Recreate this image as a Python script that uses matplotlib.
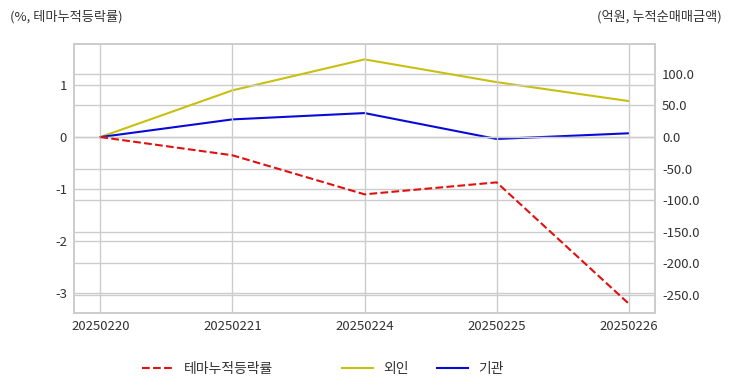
import numpy as np
import matplotlib.pyplot as plt
from matplotlib.lines import Line2D

plt.rcParams['font.family'] = ['Noto Sans CJK KR', 'DejaVu Sans']

# 데이터
dates = ['20250220', '20250221', '20250224', '20250225', '20250226']
theme_rate = [0.0, -0.35, -1.10, -0.87, -3.20]     # 테마누적등락률 (%)
foreign = [0.0, 74.0, 123.0, 87.0, 57.0]           # 외인 (억원)
institution = [0.0, 28.0, 38.0, -3.0, 6.0]         # 기관 (억원)

left_ticks = [1, 0, -1, -2, -3]
right_ticks = [100, 50, 0, -50, -100, -150, -200, -250]

grid_c = '#cccccc'
txt_c = '#333333'

fig = plt.figure(figsize=(7.32, 3.92), dpi=100)
ax = fig.add_axes([0.101, 0.2015, 0.794, 0.6865])
ax2 = ax.twinx()

x = np.arange(len(dates))
ax.plot(x, theme_rate, color='#e01010', linestyle='--', linewidth=1.5, zorder=5)
ax2.plot(x, foreign, color='#c8c010', linewidth=1.5)
ax2.plot(x, institution, color='#0a0ad8', linewidth=1.5)

ax.set_xlim(-0.2, 4.2)
ax.set_ylim(-3.38, 1.79)
ax2.set_ylim(-278.5, 147.5)

ax.set_xticks(x)
ax.set_xticklabels(dates)
ax.set_yticks(left_ticks)
ax.set_yticklabels([str(t) for t in left_ticks])
ax2.set_yticks(right_ticks)
ax2.set_yticklabels(['%.1f' % t for t in right_ticks])

for a in (ax, ax2):
    a.tick_params(length=0, labelsize=9.5, colors=txt_c, pad=5)
    for s in a.spines.values():
        s.set_color(grid_c)
        s.set_linewidth(1.2)
ax.grid(True, color=grid_c, linewidth=1)
ax2.grid(True, axis='y', color=grid_c, linewidth=1)
ax.set_axisbelow(True)
ax2.set_axisbelow(True)
ax.set_zorder(ax2.get_zorder() + 1)
ax.patch.set_visible(False)

fig.text(0.014, 0.958, '(%, 테마누적등락률)', fontsize=9.5, color=txt_c, va='center')
fig.text(0.986, 0.958, '(억원, 누적순매매금액)', fontsize=9.5, color=txt_c, va='center', ha='right')

h1 = [Line2D([], [], color='#e01010', linestyle='--', linewidth=1.5)]
leg1 = fig.legend(h1, ['테마누적등락률'], loc='center', bbox_to_anchor=(0.283, 0.058),
                  frameon=False, fontsize=10, handlelength=2.2)
for t in leg1.get_texts():
    t.set_color(txt_c)
h2 = [Line2D([], [], color='#c8c010', linewidth=1.5),
      Line2D([], [], color='#0a0ad8', linewidth=1.5)]
leg2 = fig.legend(h2, ['외인', '기관'], loc='center', bbox_to_anchor=(0.578, 0.058),
                  frameon=False, fontsize=10, ncol=2, handlelength=2.2, columnspacing=2.0)
for t in leg2.get_texts():
    t.set_color(txt_c)

fig.savefig('out.png', dpi=100)
